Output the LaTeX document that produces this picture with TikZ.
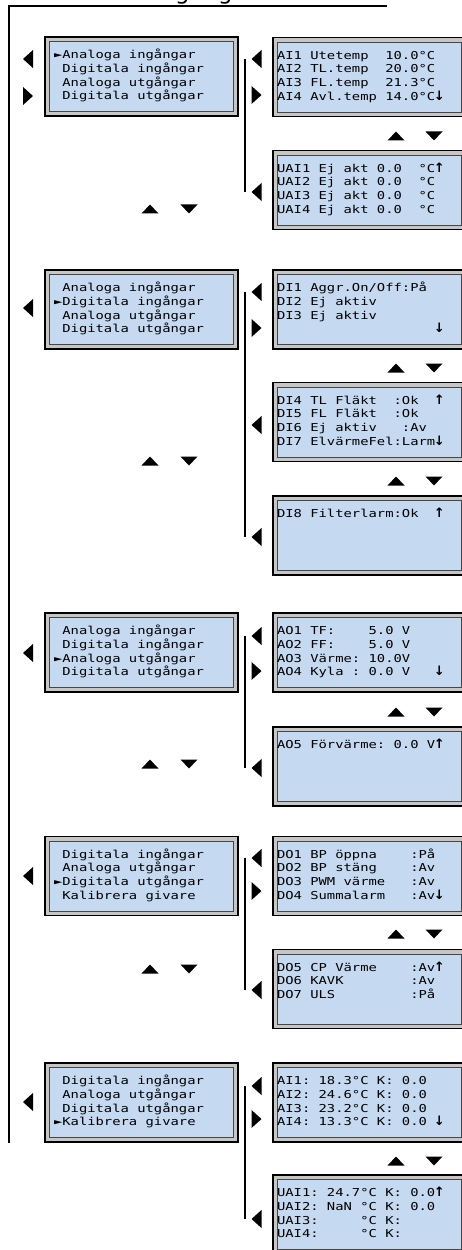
\documentclass[tikz,border=0pt]{standalone}
\usepackage{fontspec}
\usepackage{tikz}
\newfontfamily\lcdfont[FakeStretch=1.27]{DejaVu Sans Mono}
\newfontfamily\titlefont{DejaVu Sans}
\definecolor{lcdblue}{RGB}{197,217,241}
\newcommand{\lcdsetup}{\fontsize{6.2}{7.8}\selectfont\lcdfont\def~{\leavevmode\kern4.74pt}}
\newcommand{\rows}[4]{\strut#1\\\strut#2\\\strut#3\\\strut#4}
\newcommand{\up}{\makebox[4.74pt]{\fontsize{7.4}{7.8}\selectfont\titlefont\bfseries ↑}}
\newcommand{\dn}{\makebox[4.74pt]{\fontsize{7.4}{7.8}\selectfont\titlefont\bfseries ↓}}

\begin{document}
\begin{tikzpicture}[x=0.02cm, y=-0.02cm,
    lcd/.style  = {rectangle, draw=black, line width=1.1pt, fill=gray!45, minimum width=3.86cm, minimum height=1.58cm, inner sep=0pt, align=left,
                   font=\lcdsetup,
                   path picture={\draw[gray!55!black, line width=0.5pt, fill=lcdblue] ([xshift=0.09cm,yshift=-0.09cm]path picture bounding box.north west) rectangle ([xshift=-0.09cm,yshift=0.09cm]path picture bounding box.south east);}},
    menu/.style = {lcd, text width=3.5cm},
    view/.style = {lcd, text width=3.7cm},
    wire/.style = {black, line width=1.1pt},
    keyL/.pic   = {\fill (-5,0) -- (5,-9) -- (5,9) -- cycle; \coordinate (-w) at (-11.5,0);},
    keyR/.pic   = {\fill (5,0) -- (-5,-9) -- (-5,9) -- cycle;},
    keyU/.pic   = {\fill (0,-4.5) -- (8.5,4.5) -- (-8.5,4.5) -- cycle;},
    keyD/.pic   = {\fill (0,4.5) -- (8.5,-4.5) -- (-8.5,-4.5) -- cycle;}]
    \useasboundingbox (0,0) rectangle (462,1250);
    %
    \node[font=\fontsize{13}{13}\selectfont\titlefont, anchor=base west, inner sep=0pt] (title) at (154,-0.5) {ingångar};
    \draw[wire] (387,6) -- (9,6) -- (9,1143); % frame
    %
    % Analoga ingangar
    \node[menu] (m1) at (141.5,76.5) {\rows{►Analoga~ingångar}{~Digitala~ingångar}{~Analoga~utgångar}{~Digitala~utgångar}};
    \node[view] (v1a) at (369.5,77) {\rows{AI1~Utetemp~~10.0°C}{AI2~TL.temp~~20.0°C}{AI3~FL.temp~~21.3°C}{AI4~Avl.temp~14.0°C\dn}};
    \node[view] (v1b) at (369.5,190) {\rows{UAI1~Ej~akt~0.0~~°C\up}{UAI2~Ej~akt~0.0~~°C}{UAI3~Ej~akt~0.0~~°C}{UAI4~Ej~akt~0.0~~°C}};
    \pic at (28,59) {keyL};
    \pic at (28,96) {keyR};
    \pic (r1a) at (256.5,59) {keyL};
    \pic at (256.5,95) {keyR};
    \pic (r1b) at (256.5,192) {keyL};
    \draw[wire] (r1a-w) -- (r1b-w); % Vertical line
    %
    % Digitala ingangar
    \node[menu] (m2) at (141.5,309.5) {\rows{~Analoga~ingångar}{►Digitala~ingångar}{~Analoga~utgångar}{~Digitala~utgångar}};
    \node[view] (v2a) at (369.5,309.5) {\rows{DI1~Aggr.On/Off:På}{DI2~Ej~aktiv}{DI3~Ej~aktiv}{~~~~~~~~~~~~~~~~~~~\dn}};
    \node[view] (v2b) at (369.5,422) {\rows{DI4~TL~Fläkt~~:Ok~~\up}{DI5~FL~Fläkt~~:Ok}{DI6~Ej~aktiv~~~:Av}{DI7~ElvärmeFel:Larm\dn}};
    \node[view] (v2c) at (369.5,535.5) {\rows{DI8~Filterlarm:Ok~~\up}{}{}{}};
    \pic at (28,308) {keyL};
    \pic (r2a) at (256.5,292) {keyL};
    \pic at (256.5,328) {keyR};
    \pic at (256.5,425) {keyL};
    \pic (r2c) at (256.5,537) {keyL};
    \draw[wire] (r2a-w) -- (r2c-w); % Vertical line
    %
    % Analoga utgangar
    \node[menu] (m3) at (141.5,652.5) {\rows{~Analoga~ingångar}{~Digitala~ingångar}{►Analoga~utgångar}{~Digitala~utgångar}};
    \node[view] (v3a) at (369.5,652.5) {\rows{AO1~TF:~~~~5.0~V}{AO2~FF:~~~~5.0~V}{AO3~Värme:~10.0V}{AO4~Kyla~:~0.0~V~~~\dn}};
    \node[view] (v3b) at (369.5,766.5) {\rows{AO5~Förvärme:~0.0~V\up}{}{}{}};
    \pic at (28,653) {keyL};
    \pic (r3a) at (256.5,636) {keyL};
    \pic at (256.5,671) {keyR};
    \pic (r3b) at (256.5,768) {keyL};
    \draw[wire] (r3a-w) -- (r3b-w); % Vertical line
    %
    % Digitala utgangar
    \node[menu] (m4) at (141.5,876) {\rows{~Digitala~ingångar}{~Analoga~utgångar}{►Digitala~utgångar}{~Kalibrera~givare}};
    \node[view] (v4a) at (369.5,876) {\rows{DO1~BP~öppna~~~~:På}{DO2~BP~stäng~~~~:Av}{DO3~PWM~värme~~~:Av}{DO4~Summalarm~~~:Av\dn}};
    \node[view] (v4b) at (369.5,989) {\rows{DO5~CP~Värme~~~~:Av\up}{DO6~KAVK~~~~~~~~:Av}{DO7~ULS~~~~~~~~~:På}{}};
    \pic at (28,876) {keyL};
    \pic (r4a) at (256.5,858) {keyL};
    \pic at (256.5,891) {keyR};
    \pic (r4b) at (256.5,990) {keyL};
    \draw[wire] (r4a-w) -- (r4b-w); % Vertical line
    %
    % Kalibrera givare
    \node[menu] (m5) at (141.5,1102.5) {\rows{~Digitala~ingångar}{~Analoga~utgångar}{~Digitala~utgångar}{►Kalibrera~givare}};
    \node[view] (v5a) at (369.5,1102.5) {\rows{AI1:~18.3°C~K:~0.0}{AI2:~24.6°C~K:~0.0}{AI3:~23.2°C~K:~0.0}{AI4:~13.3°C~K:~0.0~\dn}};
    \node[view] (v5b) at (369.5,1214.5) {\rows{UAI1:~24.7°C~K:~0.0\up}{UAI2:~NaN~°C~K:~0.0}{UAI3:~~~~~°C~K:}{UAI4:~~~~~°C~K:}};
    \pic at (28,1102) {keyL};
    \pic (r5a) at (256.5,1086) {keyL};
    \pic at (256.5,1119) {keyR};
    \pic (r5b) at (256.5,1219) {keyL};
    \draw[wire] (r5a-w) -- (r5b-w); % Vertical line
    %
    \foreach \y in {136, 368, 481, 712, 934, 1161} {
      \pic at (396,\y) {keyU};
      \pic at (434,\y) {keyD};
    }
    \foreach \y in {209, 461, 764, 969} {
      \pic at (150,\y) {keyU};
      \pic at (189,\y) {keyD};
    }
\end{tikzpicture}
\end{document}
